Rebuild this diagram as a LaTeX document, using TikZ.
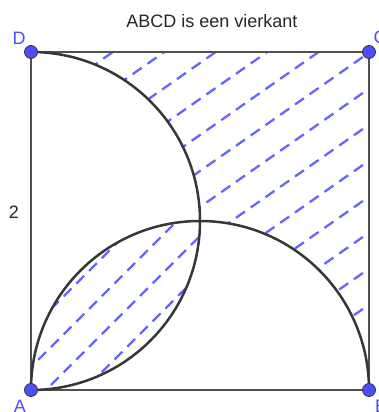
\documentclass[tikz,border=0pt]{standalone}
\usepackage{fontspec}
\setmainfont{Liberation Sans}
\definecolor{hatchblue}{RGB}{102,102,255}
\definecolor{ptblue}{RGB}{77,77,255}
\definecolor{edgegray}{RGB}{80,80,80}
\definecolor{arcgray}{RGB}{55,55,55}
\begin{document}
\begin{tikzpicture}[x=1pt,y=1pt,
  edge/.style={draw=edgegray, line width=2.3pt},
  arcline/.style={draw=arcgray, line width=2.5pt},
  hatch/.style={draw=hatchblue, line width=2.3pt, dash pattern=on 11pt off 7pt},
  ptnode/.style={circle, fill=ptblue, draw=arcgray, line width=0.8pt, inner sep=0pt, minimum size=13pt},
  lbl/.style={text=ptblue, font=\fontsize{18}{18}\selectfont, inner sep=0pt},
  txt/.style={text=black!85, font=\fontsize{18}{18}\selectfont, inner sep=0pt}]
\useasboundingbox (0,0) rectangle (379,412);
\coordinate (A) at (31,22);
\coordinate (B) at (369,22);
\coordinate (C) at (369,360);
\coordinate (D) at (31,360);
% hatched region outside both half-discs
\begin{scope}
  \clip (D) -- (C) -- (B) arc[start angle=0,end angle=90,radius=169]
        arc[start angle=0,end angle=90,radius=169] -- cycle;
  \foreach \k in {-11,...,6} \draw[hatch] (0,137+36*\k) -- ++(420,294);
\end{scope}
% hatched lens
\begin{scope}
  \clip (A) arc[start angle=180,end angle=90,radius=169]
        arc[start angle=0,end angle=-90,radius=169] -- cycle;
  \foreach \c in {52,14,-24,-62} \draw[hatch] (0,\c) -- ++(320,320);
\end{scope}
% square
\draw[edge] (A) -- (B) -- (C) -- (D) -- cycle;
% semicircles
\draw[arcline] (D) arc[start angle=90,end angle=-90,radius=169];
\draw[arcline] (A) arc[start angle=180,end angle=0,radius=169];
% points
\node[ptnode] (pA) at (A) {};
\node[ptnode] (pB) at (B) {};
\node[ptnode] (pC) at (C) {};
\node[ptnode] (pD) at (D) {};
% labels
\node[lbl] (lD) at (19,374) {D};
\node[lbl] (lA) at (20,6) {A};
\node[lbl] (lC) at (380,375) {C};
\node[lbl] (lB) at (381,6) {B};
\node[txt] (l2) at (14,200) {2};
\node[txt] (title) at (212,391) {ABCD is een vierkant};
\end{tikzpicture}
\end{document}
